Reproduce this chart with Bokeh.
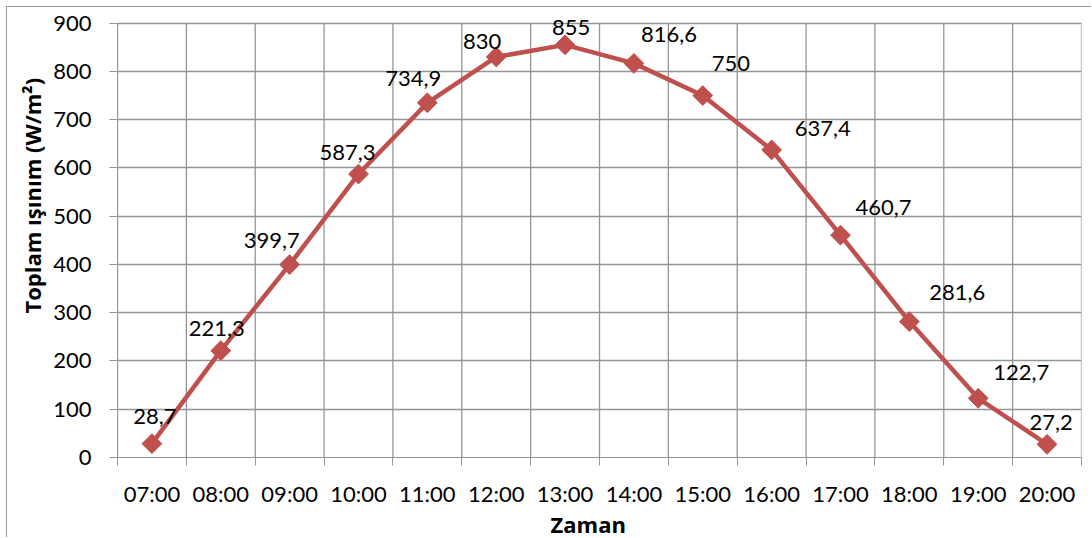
import math
from bokeh.plotting import figure
from bokeh.models import FixedTicker, Range1d, Title, ColumnDataSource, LabelSet
from bokeh.core.properties import value
from bokeh.embed import file_html
from bokeh.resources import INLINE

# ---- data ----
hours = ["07:00", "08:00", "09:00", "10:00", "11:00", "12:00", "13:00",
         "14:00", "15:00", "16:00", "17:00", "18:00", "19:00", "20:00"]
irradiance = [28.7, 221.3, 399.7, 587.3, 734.9, 830, 855,
              816.6, 750, 637.4, 460.7, 281.6, 122.7, 27.2]
y_ticks = [0, 100, 200, 300, 400, 500, 600, 700, 800, 900]
y_title = "Toplam ışınım (W/m²)"
x_title = "Zaman"

# label pixel offsets (style, not data): right / up
label_dx = [3, -4, -18, -11, -14, -14, 6, 35, 28, 51, 43, 48, 43, 4]
label_up = [27, 22, 24, 22, 24, 15, 17, 29, 32, 21, 28, 29, 26, 22]

RED = "#C0504D"
GRID = "#959595"
FONT = "Lato"
TFONT = "Open Sans"

n = len(hours)
xs = [i + 0.5 for i in range(n)]
bounds_x = list(range(n + 1))
labels = [(f"{v:.1f}".rstrip("0").rstrip(".")).replace(".", ",") for v in irradiance]
ymax = y_ticks[-1]

# a little headroom above the top gridline so the top data label is not clipped
p = figure(width=1085, height=531, x_range=Range1d(0, n), y_range=Range1d(0, ymax * 1.0222),
           output_backend="svg", toolbar_location=None,
           min_border_left=110, min_border_right=11, min_border_top=6, min_border_bottom=81,
           margin=(6, 0, 0, 6),
           styles={"border-left": "1px solid #9a9a9a", "border-top": "1px solid #9a9a9a"})
p.background_fill_color = "white"
p.border_fill_color = "white"
p.outline_line_color = None

# x axis: labels at category centres, ticks at boundaries
p.xaxis.ticker = FixedTicker(ticks=xs, minor_ticks=bounds_x)
p.xaxis.major_label_overrides = {x: h for x, h in zip(xs, hours)}
p.xaxis.major_tick_line_color = None
p.xaxis.minor_tick_line_color = GRID
p.xaxis.minor_tick_in = 0
p.xaxis.minor_tick_out = 8
p.xaxis.axis_line_color = GRID
p.xaxis.major_label_standoff = 14
p.xaxis.major_label_text_font = FONT
p.xaxis.major_label_text_font_size = "22px"
p.xaxis.major_label_text_color = "black"
p.xgrid.grid_line_color = None
p.xgrid.minor_grid_line_color = None

# vertical gridlines at category boundaries, limited to the value axis extent
p.segment(x0=bounds_x, y0=[0] * len(bounds_x), x1=bounds_x, y1=[ymax] * len(bounds_x),
          line_color=GRID, line_width=1.3, level="underlay")

# y axis
p.yaxis.ticker = FixedTicker(ticks=y_ticks)
p.yaxis.bounds = (0, ymax)
p.yaxis.minor_tick_line_color = None
p.yaxis.major_tick_line_color = GRID
p.yaxis.major_tick_in = 0
p.yaxis.major_tick_out = 8
p.yaxis.axis_line_color = GRID
p.yaxis.major_label_standoff = 18
p.yaxis.major_label_text_font = FONT
p.yaxis.major_label_text_font_size = "22px"
p.yaxis.major_label_text_color = "black"
p.ygrid.grid_line_color = GRID
p.ygrid.grid_line_width = 1.3

# axis titles
p.add_layout(Title(text=y_title, align="left", offset=144, standoff=8,
                   text_font=TFONT, text_font_size="22px", text_font_style="bold",
                   text_color="black"), "left")
p.add_layout(Title(text=x_title, align="left", offset=433, standoff=-6,
                   text_font=TFONT, text_font_size="22px", text_font_style="bold",
                   text_color="black"), "below")

src = ColumnDataSource(dict(x=xs, y=irradiance, label=labels, dx=label_dx, up=label_up))
p.line("x", "y", source=src, line_color=RED, line_width=4.5, line_join="round", line_cap="round")
p.scatter("x", "y", source=src, marker="square", angle=math.pi / 4, size=14,
          fill_color=RED, line_color=RED)
p.add_layout(LabelSet(x="x", y="y", text="label", source=src, x_offset="dx", y_offset="up",
                      text_align="center", text_baseline="middle", text_font=value(FONT),
                      text_font_size=value("22px"), text_color="black"))

open("out.html", "w").write(file_html(p, INLINE))
